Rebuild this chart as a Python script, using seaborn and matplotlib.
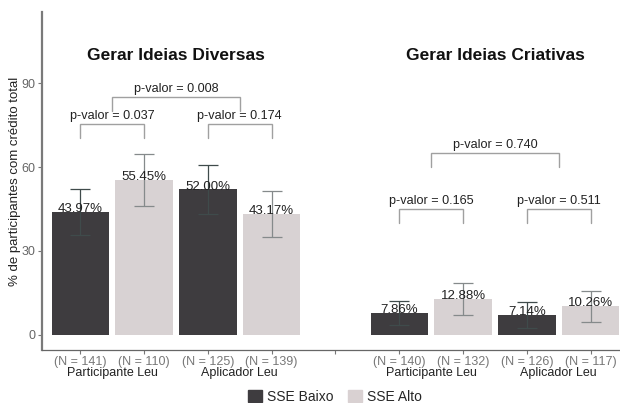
import pandas as pd
import seaborn as sns
import matplotlib.pyplot as plt
from matplotlib.patches import Patch

# data
positions = [1, 2, 3, 4, 6, 7, 8, 9]
sse = ['SSE Baixo', 'SSE Alto'] * 4
pct = [43.97, 55.45, 52.00, 43.17, 7.86, 12.88, 7.14, 10.26]
err = [8.3, 9.3, 8.8, 8.2, 4.4, 5.8, 4.5, 5.5]
n_labels = ['(N = 141)', '(N = 110)', '(N = 125)', '(N = 139)',
            '(N = 140)', '(N = 132)', '(N = 126)', '(N = 117)']
group_names = ['Participante Leu', 'Aplicador Leu'] * 2
group_pos = [1.5, 3.5, 6.5, 8.5]
titles = ['Gerar Ideias Diversas', 'Gerar Ideias Criativas']
title_pos = [2.5, 7.5]

# p-values: (x left, x right, bracket height, text)
brackets = [
    (1, 2, 75.2, 'p-valor = 0.037'),
    (3, 4, 75.2, 'p-valor = 0.174'),
    (1.5, 3.5, 85.1, 'p-valor = 0.008'),
    (6, 7, 44.9, 'p-valor = 0.165'),
    (8, 9, 44.9, 'p-valor = 0.511'),
    (6.5, 8.5, 65.1, 'p-valor = 0.740'),
]

df = pd.DataFrame({'pos': positions, 'pct': pct, 'sse': sse})
colors = {'SSE Baixo': '#3e3c3f', 'SSE Alto': '#d9d1d2'}

sns.set_theme(style='white')
plt.rcParams['font.family'] = ['Liberation Sans', 'DejaVu Sans']

fig = plt.figure(figsize=(6.2, 4.03), dpi=100)
ax = fig.add_axes([42 / 620, 53 / 403, 578 / 620, 338 / 403])

sns.barplot(data=df, x='pos', y='pct', hue='sse', palette=colors,
            native_scale=True, dodge=False, width=0.9, linewidth=0,
            errorbar=None, ax=ax)
if ax.get_legend() is not None:
    ax.get_legend().remove()

# error bars
for x, y, e, s in zip(positions, pct, err, sse):
    c = '#3f4b4b' if s == 'SSE Baixo' else '#858a8b'
    ax.errorbar(x, y, yerr=e, fmt='none', ecolor=c, elinewidth=0.9,
                capsize=7, capthick=0.9, zorder=3)

# value labels
for x, y in zip(positions, pct):
    ax.text(x, y + 1.0, f'{y:.2f}%', ha='center', va='center',
            fontsize=9.5, color='#222222', zorder=4)

# significance brackets
for x0, x1, h, label in brackets:
    ax.plot([x0, x0, x1, x1], [h - 5, h, h, h - 5], color='#a0a0a0', lw=1,
            solid_joinstyle='miter')
    ax.text((x0 + x1) / 2, h + 0.8, label, ha='center', va='bottom',
            fontsize=9.1, color='#222222')

for x, t in zip(title_pos, titles):
    ax.text(x, 100, t, ha='center', va='center', fontsize=12.5,
            fontweight='bold', color='#111111')

ax.set_xlim(0.4, 9.46)
ax.set_ylim(-5.4, 115.4)
ax.set_yticks([0, 30, 60, 90])
ax.set_xticks(positions + [5])
ax.set_xticklabels(n_labels + [''])
ax.tick_params(axis='x', length=3, width=0.8, color='#777777', pad=1,
               labelsize=9, labelcolor='#777777', bottom=True)
ax.tick_params(axis='y', length=3, width=0.8, color='#777777', pad=2,
               labelsize=9, labelcolor='#666666', left=True)

for x, g in zip(group_pos, group_names):
    ax.text(x, -0.068, g, ha='center', va='center', fontsize=9,
            color='#222222', transform=ax.get_xaxis_transform())

ax.set_xlabel('')
ax.set_ylabel('% de participantes com crédito total', fontsize=9.5,
              color='#222222')
ax.yaxis.set_label_coords(-0.036, 0.5)

for side in ['top', 'right']:
    ax.spines[side].set_visible(False)
ax.spines['left'].set_color('#7a7a7a')
ax.spines['left'].set_linewidth(1.6)
ax.spines['bottom'].set_color('#666666')
ax.spines['bottom'].set_linewidth(0.9)

handles = [Patch(color=colors[k], label=k) for k in ['SSE Baixo', 'SSE Alto']]
fig.legend(handles=handles, loc='center', bbox_to_anchor=(335 / 620, 6 / 403),
           ncol=2, frameon=False, fontsize=10, handlelength=1.0,
           handleheight=1.0, handletextpad=0.4, columnspacing=1.0)

fig.savefig('out.png', dpi=100)
